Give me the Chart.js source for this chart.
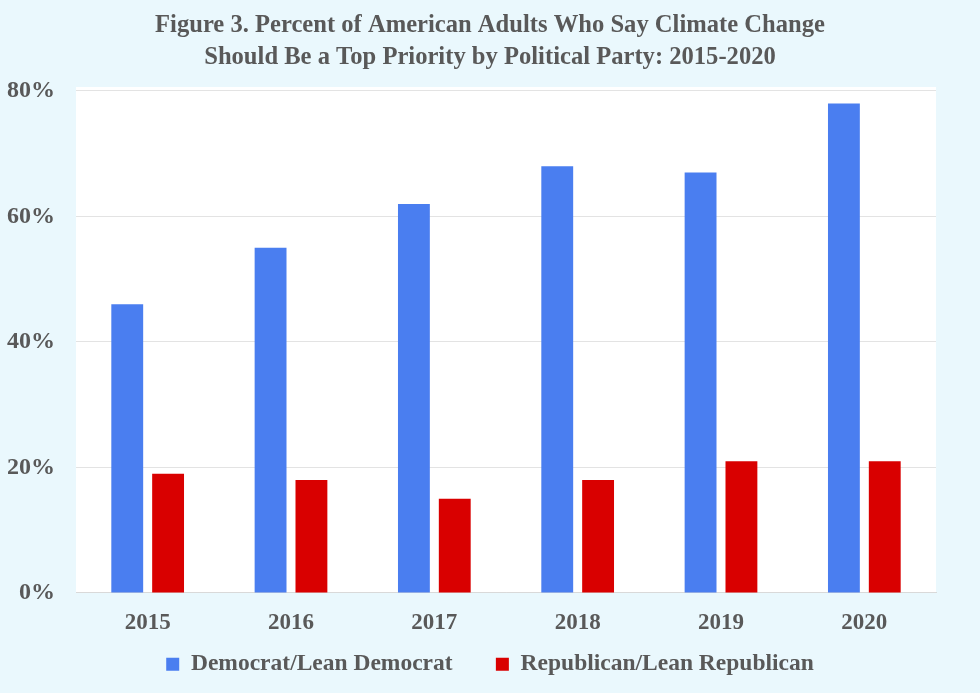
<!DOCTYPE html>
<html>
<head>
<meta charset="utf-8">
<script src="https://cdn.jsdelivr.net/npm/chart.js@4"></script>
<style>
  html, body { margin: 0; padding: 0; background: #eaf8fd; }
  #wrap { width: 980px; height: 693px; }
</style>
</head>
<body>
<div id="wrap"><canvas id="demo"></canvas></div>
<script>
const years = ["2015", "2016", "2017", "2018", "2019", "2020"];
const democrat = [46, 55, 62, 68, 67, 78];
const republican = [19, 18, 15, 18, 21, 21];
const yTicks = [0, 20, 40, 60, 80];

const serif = "'Liberation Serif', 'DejaVu Serif', serif";
const textGray = "#595959";

// white fill behind the plot area
const plotBg = {
  id: "plotBg",
  beforeDraw(chart) {
    const { ctx, chartArea: a } = chart;
    ctx.save();
    ctx.fillStyle = "#ffffff";
    ctx.fillRect(a.left, a.top - 4, a.right - a.left, a.bottom - a.top + 4);
    ctx.restore();
  },
};

const ctx = document.getElementById("demo").getContext("2d");
new Chart(ctx, {
  type: "bar",
  data: {
    labels: years,
    datasets: [
      {
        label: "Democrat/Lean Democrat",
        data: democrat,
        backgroundColor: "#4a7ef0",
        barPercentage: 0.78,
        categoryPercentage: 0.57,
      },
      {
        label: "Republican/Lean Republican",
        data: republican,
        backgroundColor: "#d90000",
        barPercentage: 0.78,
        categoryPercentage: 0.57,
      },
    ],
  },
  options: {
    responsive: true,
    maintainAspectRatio: false,
    animation: false,
    layout: { padding: { left: 0, right: 0, top: 8, bottom: 7 } },
    plugins: {
      title: {
        display: true,
        text: [
          "Figure 3. Percent of American Adults Who Say Climate Change",
          "Should Be a Top Priority by Political Party: 2015-2020",
        ],
        color: textGray,
        font: { family: serif, size: 24.6, weight: "bold", lineHeight: 1.3 },
        padding: { top: 2, bottom: 17 },
      },
      legend: {
        position: "bottom",
        labels: {
          color: textGray,
          font: { family: serif, size: 23.5, weight: "bold" },
          boxWidth: 13,
          boxHeight: 13,
          padding: 8,
          generateLabels(chart) {
            const items = Chart.defaults.plugins.legend.labels.generateLabels(chart);
            items[0].text += "      ";
            return items;
          },
        },
      },
      tooltip: { enabled: false },
    },
    scales: {
      x: {
        grid: { display: false },
        border: { color: "#d9d9d9" },
        ticks: {
          color: textGray,
          font: { family: serif, size: 23, weight: "bold" },
          padding: 8,
        },
      },
      y: {
        min: 0,
        max: 80,
        afterBuildTicks(axis) {
          axis.ticks = yTicks.map((v) => ({ value: v }));
        },
        afterFit(axis) {
          axis.width = 76;
        },
        grid: { color: "#e3e3e3", drawTicks: false },
        border: { display: false },
        ticks: {
          color: textGray,
          font: { family: serif, size: 24, weight: "bold" },
          padding: 21,
          callback: (v) => v + "%",
        },
      },
      // empty right-hand spacer so the title and legend stay centred on the page
      yRight: {
        position: "right",
        min: 0,
        max: 80,
        grid: { display: false },
        border: { display: false },
        ticks: { display: false },
        afterFit(axis) {
          axis.width = 44;
        },
      },
    },
  },
  plugins: [plotBg],
});
</script>
</body>
</html>
